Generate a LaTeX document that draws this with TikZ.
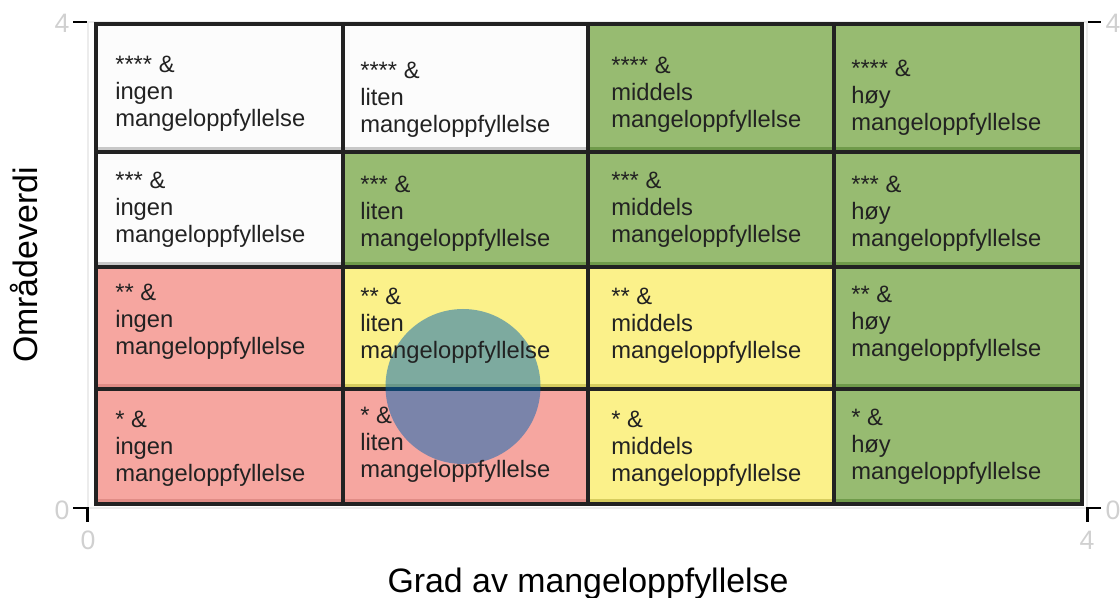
\documentclass[tikz,border=0pt]{standalone}
\usepackage{fontspec}
\setmainfont{Liberation Sans}
\definecolor{cw}{HTML}{FCFCFC}
\definecolor{cg}{HTML}{97BB71}
\definecolor{cy}{HTML}{FBF18A}
\definecolor{cp}{HTML}{F6A6A0}
\definecolor{bw}{HTML}{C8C8C8}
\definecolor{bg}{HTML}{6F9A4A}
\definecolor{by}{HTML}{D6CC5E}
\definecolor{bp}{HTML}{E08C86}
\definecolor{cblue}{RGB}{0,100,180}
\definecolor{ink}{HTML}{222222}
\definecolor{ticklbl}{HTML}{D0D0D0}
\definecolor{panel}{HTML}{ECECEC}
\begin{document}
\begin{tikzpicture}[x=0.75pt,y=-0.75pt,
  lbl/.style={anchor=west,align=left,inner sep=0pt,text=ink,font=\fontsize{17.8}{20.3}\selectfont},
  ttl/.style={inner sep=0pt,anchor=base,text=black,font=\fontsize{25.4}{30}\selectfont},
  tlab/.style={inner sep=0pt,text=ticklbl,font=\fontsize{20}{24}\selectfont},
  tickline/.style={black,line width=1.6pt},
  cellborder/.style={ink,line width=2.3pt}]
\useasboundingbox (0,0) rectangle (1120,598);
% panel
\draw[panel,line width=0.8pt] (88,22) rectangle (1087,508);
% cells
\foreach \xa/\xb/\ya/\yb/\t in {
  96/343/24/152/w, 343/588/24/152/w, 588/834/24/152/g, 834/1082/24/152/g,
  96/343/152/267/w, 343/588/152/267/g, 588/834/152/267/g, 834/1082/152/267/g,
  96/343/267/389/p, 343/588/267/389/y, 588/834/267/389/y, 834/1082/267/389/g,
  96/343/389/504/p, 343/588/389/504/p, 588/834/389/504/y, 834/1082/389/504/g}{
  \fill[c\t] (\xa,\ya) rectangle (\xb,\yb);
  \fill[b\t] (\xa,\yb-5) rectangle (\xb,\yb-1);
}
\foreach \xa/\xb/\ya/\yb in {
  96/343/24/152, 343/588/24/152, 588/834/24/152, 834/1082/24/152,
  96/343/152/267, 343/588/152/267, 588/834/152/267, 834/1082/152/267,
  96/343/267/389, 343/588/267/389, 588/834/267/389, 834/1082/267/389,
  96/343/389/504, 343/588/389/504, 588/834/389/504, 834/1082/389/504}{
  \draw[cellborder] (\xa,\ya) rectangle (\xb,\yb);
}
% point
\node[circle,fill=cblue,fill opacity=0.5,draw=none,inner sep=0pt,minimum size=116.25pt] (pt) at (463,386.5) {};
% labels
\node[lbl] (c11) at (115,94)  {**** \&\\ingen\\mangeloppfyllelse};
\node[lbl] (c12) at (360,100) {**** \&\\liten\\mangeloppfyllelse};
\node[lbl] (c13) at (611,95)  {**** \&\\middels\\mangeloppfyllelse};
\node[lbl] (c14) at (851,98)  {**** \&\\høy\\mangeloppfyllelse};
\node[lbl] (c21) at (115,210) {*** \&\\ingen\\mangeloppfyllelse};
\node[lbl] (c22) at (360,214) {*** \&\\liten\\mangeloppfyllelse};
\node[lbl] (c23) at (611,210) {*** \&\\middels\\mangeloppfyllelse};
\node[lbl] (c24) at (851,214) {*** \&\\høy\\mangeloppfyllelse};
\node[lbl] (c31) at (115,322) {** \&\\ingen\\mangeloppfyllelse};
\node[lbl] (c32) at (360,326) {** \&\\liten\\mangeloppfyllelse};
\node[lbl] (c33) at (611,326) {** \&\\middels\\mangeloppfyllelse};
\node[lbl] (c34) at (851,324) {** \&\\høy\\mangeloppfyllelse};
\node[lbl] (c41) at (115,449) {* \&\\ingen\\mangeloppfyllelse};
\node[lbl] (c42) at (360,445) {* \&\\liten\\mangeloppfyllelse};
\node[lbl] (c43) at (611,449) {* \&\\middels\\mangeloppfyllelse};
\node[lbl] (c44) at (851,447) {* \&\\høy\\mangeloppfyllelse};
% ticks
\draw[tickline] (73,22) -- (87,22);
\draw[tickline] (73,508) -- (87.5,508) -- (87.5,522);
\draw[tickline] (1088,22) -- (1101,22);
\draw[tickline] (1101,508) -- (1087.5,508) -- (1087.5,522);
% tick labels
\node[tlab] (yl4) at (62,23) {4};
\node[tlab] (yl0) at (62,510) {0};
\node[tlab] (xb0) at (88,540) {0};
\node[tlab] (xb4) at (1087,540) {4};
\node[tlab] (yr4) at (1113,23) {4};
\node[tlab] (yr0) at (1113,510) {0};
% axis titles
\node[ttl] (xt) at (588,592) {Grad av mangeloppfyllelse};
\node[ttl,rotate=90] (yt) at (37,265) {Områdeverdi};
\end{tikzpicture}
\end{document}
